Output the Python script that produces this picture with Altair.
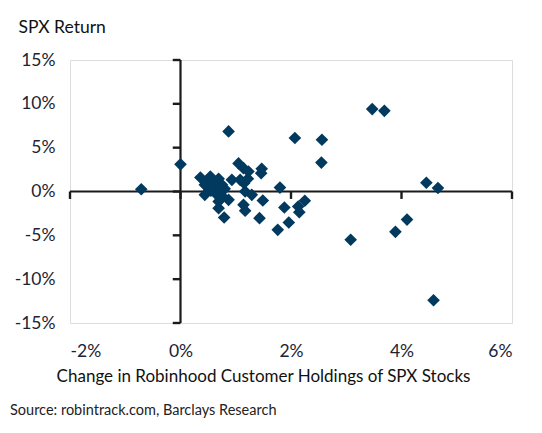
import altair as alt
import pandas as pd

# Change in Robinhood holdings (%) and SPX return (%)
x_vals = [-0.71, 0.00, 0.87, 2.07, 2.56, 2.55, 3.47, 3.69, 4.45, 4.66,
          3.08, 4.10, 3.89, 4.58, 1.80,
          0.36, 0.54, 0.69, 0.44, 0.60, 0.44, 0.66, 0.75, 0.69, 0.69,
          0.87, 0.79, 0.93, 1.05, 1.14, 1.23, 1.08, 1.22, 1.47, 1.46,
          1.17, 1.29, 1.14, 1.17, 1.49, 1.43, 1.76, 1.88, 1.96, 2.13,
          2.15, 2.25, 0.50, 0.60, 0.80, 0.75, 0.55, 1.15, 0.72]
y_vals = [0.26, 3.10, 6.85, 6.10, 5.90, 3.30, 9.40, 9.20, 1.00, 0.40,
          -5.50, -3.20, -4.60, -12.40, 0.45,
          1.60, 1.70, 1.45, 0.76, 0.38, -0.38, -0.38, 0.76, -1.14, -1.90,
          -0.95, -2.97, 1.33, 3.20, 2.66, 2.28, 1.33, 1.45, 2.59, 2.09,
          0.00, -0.38, -1.52, -2.20, -1.03, -3.04, -4.37, -1.83, -3.54, -1.71,
          -2.36, -1.06, 1.20, 1.00, 0.30, -0.50, 0.10, 0.95, 0.20]

x_ticks = [-2, 0, 2, 4, 6]
y_ticks = [-15, -10, -5, 0, 5, 10, 15]

FONT = "Lato"
NAVY = "#023A5F"
TXT = "#1c2433"
LINE = "#1a1a1a"

df = pd.DataFrame({"x": x_vals, "y": y_vals})

# tick segments hanging off the zero lines (built from the tick lists)
XT_LEN = 0.85   # in y units
YT_LEN = 0.14   # in x units
tick_rows = []
for v in x_ticks:
    tick_rows.append({"a": v, "b": 0.0, "a2": v, "b2": -XT_LEN})
for v in y_ticks:
    tick_rows.append({"a": 0.0, "b": v, "a2": -YT_LEN, "b2": v})
ticks_df = pd.DataFrame(tick_rows)

# the two zero lines
zero_df = pd.DataFrame([
    {"a": x_ticks[0], "b": 0, "a2": x_ticks[-1], "b2": 0},
    {"a": 0, "b": y_ticks[0], "a2": 0, "b2": y_ticks[-1]},
])

xscale = alt.Scale(domain=[-2, 6], nice=False)
yscale = alt.Scale(domain=[-15, 15], nice=False)

x_axis = alt.Axis(values=x_ticks, labelExpr="datum.value + '%'", domain=False, ticks=False,
                  grid=False, labelPadding=19, labelFontSize=17.5, labelFont=FONT, labelColor=TXT,
                  title="Change in Robinhood Customer Holdings of SPX Stocks",
                  titleFont=FONT, titleFontSize=17, titleFontWeight="normal", titleColor="#111111",
                  titleX=193, titleY=45, titleBaseline="top", titleAlign="center")
y_axis = alt.Axis(values=y_ticks, labelExpr="datum.value + '%'", domain=False, ticks=False,
                  grid=False, labelPadding=15, labelFontSize=17.5, labelFont=FONT, labelColor=TXT,
                  title="SPX Return", titleAngle=0, titleAlign="left", titleBaseline="middle",
                  titleX=-52, titleY=-33, titleFont=FONT, titleFontSize=17.5,
                  titleFontWeight="normal", titleColor="#111111")

points = alt.Chart(df).mark_point(shape="diamond", filled=True, size=160, color=NAVY, opacity=1).encode(
    x=alt.X("x:Q", scale=xscale, axis=x_axis),
    y=alt.Y("y:Q", scale=yscale, axis=y_axis),
)

zero_lines = alt.Chart(zero_df).mark_rule(color=LINE, strokeWidth=2.2).encode(
    x=alt.X("a:Q", scale=xscale), y=alt.Y("b:Q", scale=yscale),
    x2="a2:Q", y2="b2:Q")

tick_lines = alt.Chart(ticks_df).mark_rule(color=LINE, strokeWidth=2.4).encode(
    x=alt.X("a:Q", scale=xscale), y=alt.Y("b:Q", scale=yscale),
    x2="a2:Q", y2="b2:Q")

chart = alt.layer(zero_lines, points, tick_lines).properties(
    width=442, height=263,
    autosize=alt.AutoSizeParams(type="none"),
    padding={"left": 62, "top": 52, "right": 20, "bottom": 110},
    title=alt.TitleParams(text="Source: robintrack.com, Barclays Research", orient="bottom",
                          anchor="start", frame="group", dx=-60, offset=20, fontSize=14.5,
                          fontWeight="normal", font=FONT, color="#222222"),
).configure_view(stroke=None).configure(background="white")

chart.save("out.html", embed_options={"renderer": "svg", "actions": False})
